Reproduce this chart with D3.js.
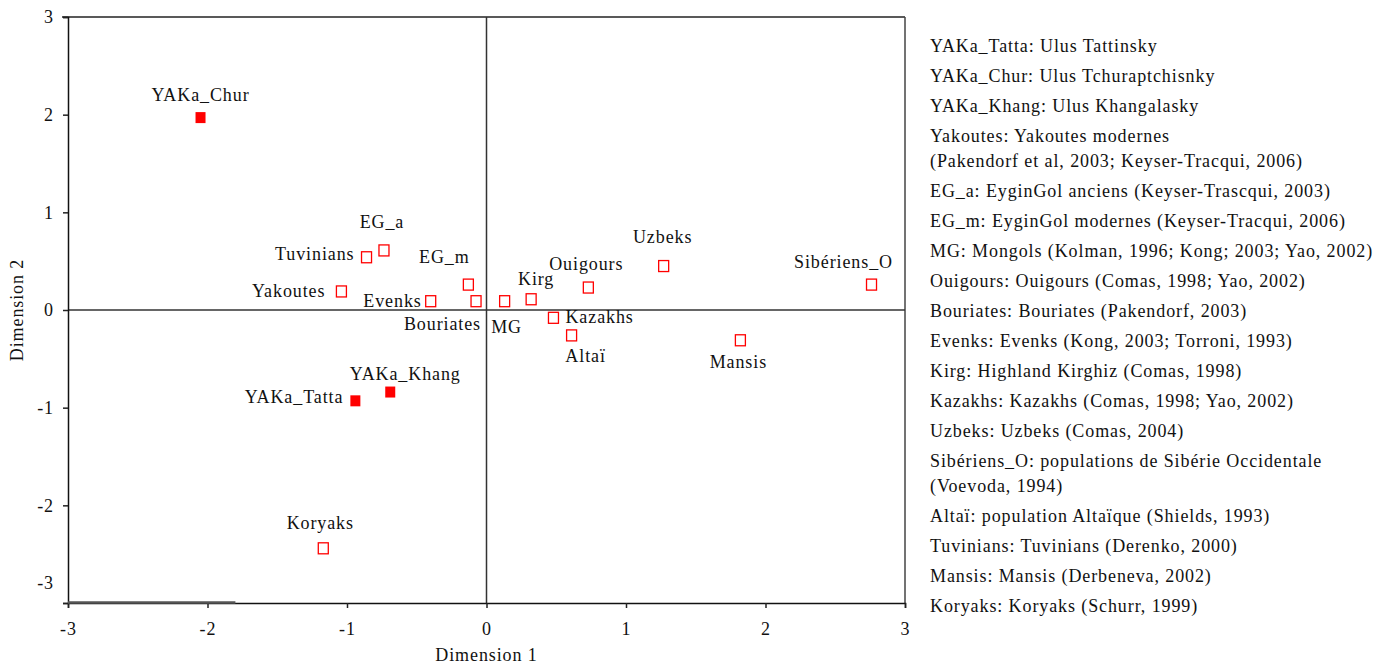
<!DOCTYPE html>
<html><head><meta charset="utf-8">
<script src="https://cdn.jsdelivr.net/npm/d3@7"></script>
<style>body{margin:0;background:#fff}</style>
</head><body><svg id="c" width="1393" height="666"></svg>
<script>
const names = ["YAKa_Chur","EG_a","Tuvinians","Yakoutes","Evenks","EG_m","Bouriates","MG","Kirg","Ouigours","Kazakhs","Altaï","Uzbeks","Sibériens_O","Mansis","YAKa_Tatta","YAKa_Khang","Koryaks"];
const dim1 = [-2.05,-0.735,-0.86,-1.04,-0.40,-0.13,-0.075,0.13,0.32,0.73,0.48,0.61,1.27,2.76,1.82,-0.94,-0.69,-1.17];
const dim2 = [1.97,0.61,0.54,0.19,0.09,0.26,0.09,0.09,0.11,0.23,-0.08,-0.26,0.45,0.26,-0.31,-0.93,-0.84,-2.44];
const filled = [true,false,false,false,false,false,false,false,false,false,false,false,false,false,false,true,true,false];
const xTicks = [-3,-2,-1,0,1,2,3];
const yTicks = [-3,-2,-1,0,1,2,3];
const legendLines = [
 ["YAKa_Tatta: Ulus Tattinsky"],
 ["YAKa_Chur: Ulus Tchuraptchisnky"],
 ["YAKa_Khang: Ulus Khangalasky"],
 ["Yakoutes: Yakoutes modernes","(Pakendorf et al, 2003; Keyser-Tracqui, 2006)"],
 ["EG_a: EyginGol anciens (Keyser-Trascqui, 2003)"],
 ["EG_m: EyginGol modernes (Keyser-Tracqui, 2006)"],
 ["MG: Mongols (Kolman, 1996; Kong; 2003; Yao, 2002)"],
 ["Ouigours: Ouigours (Comas, 1998; Yao, 2002)"],
 ["Bouriates: Bouriates (Pakendorf, 2003)"],
 ["Evenks: Evenks (Kong, 2003; Torroni, 1993)"],
 ["Kirg: Highland Kirghiz (Comas, 1998)"],
 ["Kazakhs: Kazakhs (Comas, 1998; Yao, 2002)"],
 ["Uzbeks: Uzbeks (Comas, 2004)"],
 ["Sibériens_O: populations de Sibérie Occidentale","(Voevoda, 1994)"],
 ["Altaï: population Altaïque (Shields, 1993)"],
 ["Tuvinians: Tuvinians (Derenko, 2000)"],
 ["Mansis: Mansis (Derbeneva, 2002)"],
 ["Koryaks: Koryaks (Schurr, 1999)"]
];
// label placement (style): [anchor, dx, dy]
const labelPos = {
 "YAKa_Chur":["middle",0,-17],"EG_a":["middle",-2,-22],"Tuvinians":["end",-12,3],
 "Yakoutes":["end",-16,6],"Evenks":["end",-9,6],"EG_m":["middle",-24,-22],
 "Bouriates":["end",5,29],"MG":["middle",2,32],"Kirg":["middle",5,-14],
 "Ouigours":["middle",-2,-18],"Kazakhs":["start",12,5],"Altaï":["middle",14,27],
 "Uzbeks":["middle",-1,-23],"Sibériens_O":["middle",-28,-17],"Mansis":["middle",-2,28],
 "YAKa_Tatta":["end",-12,2],"YAKa_Khang":["middle",15,-12],"Koryaks":["middle",-3,-19]
};

const FONT = "'Liberation Serif', 'Times New Roman', serif";
const FS = 18, LS = 0.9;
const styleText = s => s.attr("font-family",FONT).attr("font-size",FS).attr("letter-spacing",LS).attr("fill","#111");

const svg = d3.select("#c");
const x = d3.scaleLinear().domain([-3,3]).range([68,905]);
const y = d3.scaleLinear().domain([-3,3]).range([603,17]);

// frame
svg.append("line").attr("x1",x(-3)-6).attr("x2",x(3)).attr("y1",y(3)).attr("y2",y(3)).attr("stroke","#222").attr("stroke-width",1.5);
svg.append("line").attr("x1",x(3)).attr("x2",x(3)).attr("y1",y(3)).attr("y2",y(-3)).attr("stroke","#444").attr("stroke-width",1.5);
// zero lines
svg.append("line").attr("x1",x(-3)).attr("x2",x(3)).attr("y1",y(0)).attr("y2",y(0)).attr("stroke","#333").attr("stroke-width",1.5);
svg.append("line").attr("x1",x(0)).attr("x2",x(0)).attr("y1",y(3)).attr("y2",y(-3)).attr("stroke","#333").attr("stroke-width",1.5);

const fmt = d => d<0 ? "-"+Math.abs(d) : String(d);
const xa = svg.append("g").attr("transform",`translate(0,${y(-3)})`)
  .call(d3.axisBottom(x).tickValues(xTicks).tickFormat(fmt).tickSize(5).tickPadding(14));
const ya = svg.append("g").attr("transform",`translate(${x(-3)},0)`)
  .call(d3.axisLeft(y).tickValues(yTicks).tickFormat(fmt).tickSize(5).tickPadding(9));
[xa,ya].forEach(a=>{
  a.attr("font-family",null).attr("font-size",null);
  a.select(".domain").attr("stroke","#111").attr("stroke-width",1.5);
  a.selectAll(".tick line").attr("stroke","#222").attr("stroke-width",1.5);
  a.selectAll(".tick text").call(styleText);
});
// lowest y label is lifted above the corner, as in the reference
ya.selectAll(".tick").filter(d=>d===-3).select("text").attr("y",-20);
svg.append("line").attr("x1",x(-3)).attr("x2",x(-1.8)).attr("y1",y(-3)-0.5).attr("y2",y(-3)-0.5).attr("stroke","#555").attr("stroke-width",2.5);

// axis titles
svg.append("text").attr("x",x(0)).attr("y",661).attr("text-anchor","middle").call(styleText).text("Dimension 1");
svg.append("text").attr("transform",`translate(23,${y(0)}) rotate(-90)`).attr("text-anchor","middle").call(styleText).text("Dimension 2");

// points
const data = names.map((n,i)=>({n,x:dim1[i],y:dim2[i],f:filled[i]}));
const g = svg.append("g");
g.selectAll("rect").data(data).join("rect")
  .attr("x",d=>x(d.x)-5).attr("y",d=>y(d.y)-5.5)
  .attr("width",10).attr("height",11)
  .attr("fill",d=>d.f?"#ff0000":"#fff")
  .attr("stroke","#ff0000").attr("stroke-width",d=>d.f?0:1.3);
g.selectAll("text").data(data).join("text")
  .attr("x",d=>x(d.x)+labelPos[d.n][1]).attr("y",d=>y(d.y)+labelPos[d.n][2])
  .attr("text-anchor",d=>labelPos[d.n][0]).call(styleText).text(d=>d.n);

// legend
const lg = svg.append("g");
let ly = 52;
legendLines.forEach(entry=>{
  entry.forEach((t,k)=>{
    if(k>0) ly += 25;
    lg.append("text").attr("x",930).attr("y",ly).call(styleText).text(t);
  });
  ly += 30;
});
</script></body></html>
